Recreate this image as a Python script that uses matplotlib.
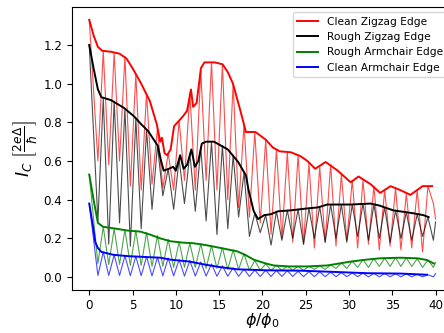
import numpy as np
import matplotlib
matplotlib.use('Agg')
import matplotlib.pyplot as plt

# positions of the dips and peaks of the oscillating curves
dip_x = [1.0, 2.25, 3.5, 4.75, 6.0, 7.25, 8.5, 9.75, 11.0, 12.25, 13.5, 14.75,
         16.0, 17.25, 18.5, 19.75, 21.0, 22.25, 23.5, 24.75, 26.0, 27.25, 28.5,
         29.75, 31.0, 32.25, 33.5, 34.75, 36.0, 37.25, 38.5, 39.75]
peak_x = [1.62, 2.88, 4.12, 5.38, 6.62, 7.88, 9.12, 10.38, 11.62, 12.88, 14.12,
          15.38, 16.62, 17.88, 19.12, 20.38, 21.62, 22.88, 24.12, 25.38, 26.62,
          27.88, 29.12, 30.38, 31.62, 32.88, 34.12, 35.38, 36.62, 37.88, 39.12]

# Clean Zigzag Edge
cz_env_x = [0, 0.5, 1.0, 1.5, 2.5, 3.5, 4.3, 5.0, 6.0, 7.0, 7.8, 8.2, 8.4, 8.7,
            9.0, 9.4, 9.8, 10.8, 11.3, 11.75, 12.0, 12.4, 12.9, 13.3, 14.5, 15.4,
            16.0, 16.6, 17.4, 18.1, 19.2, 20.4, 21.2, 22.0, 23.3, 24.4, 25.2,
            26.1, 27.3, 28.7, 30.2, 31.1, 32.5, 33.6, 34.8, 35.9, 37.1, 38.5, 39.6]
cz_env_y = [1.33, 1.25, 1.19, 1.17, 1.165, 1.155, 1.13, 1.08, 1.0, 0.91, 0.79,
            0.70, 0.72, 0.64, 0.63, 0.66, 0.78, 0.83, 0.86, 0.97, 0.88, 0.90,
            1.08, 1.11, 1.11, 1.10, 1.06, 1.0, 0.87, 0.75, 0.75, 0.71, 0.67,
            0.65, 0.645, 0.625, 0.60, 0.56, 0.595, 0.55, 0.49, 0.52, 0.48,
            0.435, 0.47, 0.45, 0.425, 0.47, 0.47]
cz_start, cz_end = 1.33, 0.30
cz_dips = [0.60, 0.58, 0.60, 0.47, 0.45, 0.48, 0.46, 0.45, 0.50, 0.45, 0.50, 0.45,
           0.40, 0.36, 0.31, 0.28, 0.22, 0.20, 0.18, 0.17, 0.15, 0.18, 0.16,
           0.19, 0.15, 0.17, 0.14, 0.16, 0.14, 0.15, 0.13, 0.38]
cz_peaks = [1.17, 1.16, 1.14, 1.05, 0.95, 0.77, 0.64, 0.81, 0.95, 1.07, 1.11,
            1.10, 1.0, 0.79, 0.75, 0.71, 0.66, 0.645, 0.63, 0.59, 0.57, 0.58,
            0.53, 0.50, 0.50, 0.47, 0.45, 0.46, 0.43, 0.45, 0.47]

# Rough Zigzag Edge
rz_env_x = [0, 0.5, 1.0, 1.4, 2.5, 4.0, 5.2, 6.0, 6.8, 7.9, 8.3, 8.6, 9.2, 9.7,
            10.0, 10.5, 10.9, 11.3, 11.8, 12.2, 12.6, 13.0, 13.5, 14.4, 15.0,
            16.0, 17.2, 18.1, 18.4, 19.0, 19.5, 20.2, 21.0, 21.8, 23.3, 25.2,
            26.4, 27.5, 30.2, 32.5, 33.5, 35.1, 37.4, 38.6, 39.2]
rz_env_y = [1.20, 1.08, 0.97, 0.93, 0.915, 0.875, 0.83, 0.79, 0.755, 0.68, 0.60,
            0.55, 0.56, 0.57, 0.55, 0.63, 0.56, 0.58, 0.66, 0.57, 0.60, 0.69,
            0.70, 0.70, 0.685, 0.66, 0.595, 0.525, 0.45, 0.34, 0.30, 0.32,
            0.325, 0.34, 0.345, 0.355, 0.36, 0.375, 0.375, 0.38, 0.37, 0.345,
            0.33, 0.32, 0.31]
rz_start, rz_end = 1.20, 0.285
rz_dips = [0.29, 0.17, 0.28, 0.16, 0.25, 0.35, 0.42, 0.35, 0.38, 0.34, 0.29, 0.22,
           0.25, 0.31, 0.21, 0.23, 0.165, 0.19, 0.20, 0.17, 0.20, 0.18, 0.20,
           0.18, 0.21, 0.19, 0.20, 0.18, 0.20, 0.19, 0.21, 0.19]
rz_peaks = [0.925, 0.91, 0.87, 0.82, 0.76, 0.68, 0.56, 0.61, 0.64, 0.67, 0.70,
            0.68, 0.63, 0.54, 0.33, 0.32, 0.34, 0.345, 0.35, 0.355, 0.365,
            0.375, 0.375, 0.375, 0.38, 0.375, 0.36, 0.345, 0.335, 0.325, 0.31]

# Rough Armchair Edge
ra_env_x = [0, 0.5, 1.0, 1.6, 3.1, 4.5, 5.9, 7.0, 8.2, 9.4, 10.8, 12.0, 13.5,
            15.2, 17.1, 18.0, 19.0, 20.4, 21.3, 23.0, 25.2, 27.5, 30.2, 32.0,
            33.6, 35.9, 37.9, 39.0, 39.8]
ra_env_y = [0.53, 0.40, 0.28, 0.26, 0.25, 0.24, 0.235, 0.22, 0.20, 0.185, 0.178,
            0.175, 0.165, 0.15, 0.133, 0.115, 0.09, 0.07, 0.06, 0.055, 0.055,
            0.06, 0.08, 0.09, 0.097, 0.10, 0.097, 0.088, 0.07]
ra_start, ra_end = 0.53, 0.075
ra_dips = [0.07, 0.065, 0.065, 0.06, 0.06, 0.055, 0.055, 0.05, 0.05, 0.05, 0.045,
           0.045, 0.04, 0.04, 0.035, 0.035, 0.035, 0.035, 0.035, 0.035, 0.04,
           0.04, 0.045, 0.045, 0.05, 0.05, 0.055, 0.055, 0.055, 0.055, 0.05, 0.05]
ra_peaks = [0.26, 0.25, 0.245, 0.24, 0.23, 0.215, 0.195, 0.182, 0.176, 0.172,
            0.163, 0.152, 0.14, 0.12, 0.085, 0.068, 0.06, 0.056, 0.055, 0.055,
            0.058, 0.062, 0.072, 0.082, 0.09, 0.095, 0.098, 0.1, 0.099, 0.095,
            0.088]

# Clean Armchair Edge
ca_env_x = [0, 0.4, 0.7, 1.0, 1.4, 2.8, 4.5, 5.9, 8.2, 9.4, 11.6, 13.3, 15.0,
            17.1, 20.4, 24.4, 28.0, 32.1, 36.0, 39.0]
ca_env_y = [0.38, 0.27, 0.18, 0.15, 0.13, 0.115, 0.108, 0.105, 0.10, 0.09, 0.08,
            0.065, 0.052, 0.04, 0.035, 0.033, 0.027, 0.02, 0.018, 0.012]
ca_start, ca_end = 0.38, 0.018
ca_dips = [0.008, 0.008, 0.008, 0.007, 0.007, 0.006, 0.006, 0.006, 0.005, 0.005,
           0.005, 0.004, 0.004, 0.004, 0.003, 0.003, 0.003, 0.003, 0.003, 0.002,
           0.002, 0.002, 0.002, 0.002, 0.002, 0.001, 0.001, 0.001, 0.001, 0.001,
           0.001, 0.001]
ca_peaks = [0.13, 0.115, 0.11, 0.107, 0.105, 0.102, 0.098, 0.09, 0.085, 0.078,
            0.068, 0.058, 0.048, 0.04, 0.036, 0.035, 0.034, 0.033, 0.03, 0.028,
            0.027, 0.025, 0.023, 0.021, 0.02, 0.019, 0.018, 0.017, 0.016, 0.014,
            0.012]


def thin_curve(start, dips, peaks, end):
    # walk start -> dip -> peak -> dip ... -> end
    xs, ys = [0.0], [start]
    for i, d in enumerate(dips):
        xs.append(dip_x[i])
        ys.append(d)
        if i < len(peaks):
            xs.append(peak_x[i])
            ys.append(peaks[i])
    xs.append(40.0)
    ys.append(end)
    return xs, ys


series = [
    ('Clean Zigzag Edge', 'red', cz_env_x, cz_env_y, cz_start, cz_dips, cz_peaks, cz_end),
    ('Rough Zigzag Edge', 'black', rz_env_x, rz_env_y, rz_start, rz_dips, rz_peaks, rz_end),
    ('Rough Armchair Edge', 'green', ra_env_x, ra_env_y, ra_start, ra_dips, ra_peaks, ra_end),
    ('Clean Armchair Edge', 'blue', ca_env_x, ca_env_y, ca_start, ca_dips, ca_peaks, ca_end),
]

fig = plt.figure(figsize=(4.44, 3.33), dpi=100)
ax = fig.add_axes([0.162, 0.13, 0.858, 0.849])

for label, color, ex, ey, s, dips, peaks, e in series:
    tx, ty = thin_curve(s, dips, peaks, e)
    ax.plot(tx, ty, color=color, lw=0.8, alpha=0.7)
    ax.plot(ex, ey, color=color, lw=1.4, label=label)

ax.set_xticks([0, 5, 10, 15, 20, 25, 30, 35, 40])
ax.set_yticks([0.0, 0.2, 0.4, 0.6, 0.8, 1.0, 1.2])
ax.tick_params(labelsize=8.6)
ax.set_xlabel(r'$\phi/\phi_0$', fontsize=11.5, labelpad=-1)
ax.set_ylabel(r'$I_C\ \left[\frac{2e\Delta}{\hbar}\right]$', fontsize=12.5, labelpad=2)
ax.legend(loc='upper right', fontsize=7.7)

fig.savefig('out.png', dpi=100)
